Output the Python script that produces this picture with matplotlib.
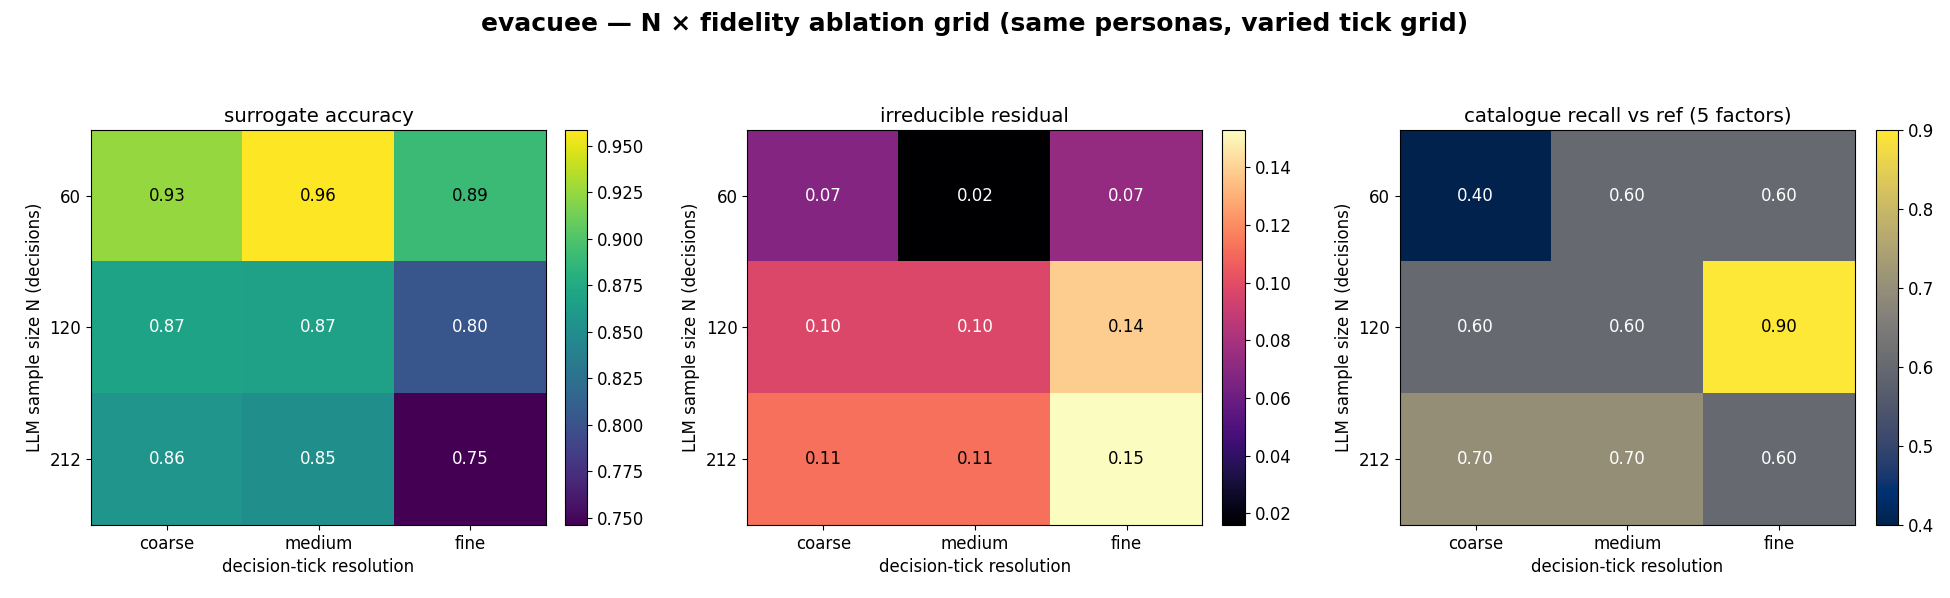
import matplotlib
matplotlib.use("Agg")
import matplotlib.pyplot as plt
import numpy as np

# grid axes
n_values = ["60", "120", "212"]
fidelity = ["coarse", "medium", "fine"]

# metric grids (rows = N, cols = fidelity)
surrogate_acc = [[0.925, 0.9585, 0.891],
                 [0.869, 0.868, 0.803],
                 [0.857, 0.852, 0.746]]
residual = [[0.068, 0.016, 0.0735],
            [0.097, 0.097, 0.139],
            [0.112, 0.112, 0.153]]
recall = [[0.4, 0.6, 0.6],
          [0.6, 0.6, 0.9],
          [0.7, 0.7, 0.6]]

panels = [
    ("surrogate accuracy", surrogate_acc, "viridis"),
    ("irreducible residual", residual, "magma"),
    ("catalogue recall vs ref (5 factors)", recall, "cividis"),
]

plt.rcParams["font.size"] = 12

fig = plt.figure(figsize=(19.5, 5.98), dpi=100)
ax_lefts = [0.0467, 0.3833, 0.7179]
cb_lefts = [0.2897, 0.6268, 0.9620]
bottom, height = 0.1221, 0.6605

for i, (title, grid, cmap) in enumerate(panels):
    data = np.array(grid)
    ax = fig.add_axes([ax_lefts[i], bottom, 0.2333, height])
    cax = fig.add_axes([cb_lefts[i], bottom, 0.0115, height])
    im = ax.imshow(data, cmap=cmap, aspect="auto")
    fig.colorbar(im, cax=cax)
    vmin, vmax = data.min(), data.max()
    for r in range(data.shape[0]):
        for c in range(data.shape[1]):
            v = data[r, c]
            frac = (v - vmin) / (vmax - vmin)
            color = "black" if frac > 0.65 else "white"
            ax.text(c, r, f"{v:.2f}", ha="center", va="center", color=color, fontsize=12)
    ax.set_xticks(range(len(fidelity)))
    ax.set_xticklabels(fidelity)
    ax.set_yticks(range(len(n_values)))
    ax.set_yticklabels(n_values)
    ax.set_xlabel("decision-tick resolution")
    ax.set_ylabel("LLM sample size N (decisions)")
    ax.set_title(title, fontsize=14.2)

fig.suptitle("evacuee \u2014 N \u00d7 fidelity ablation grid (same personas, varied tick grid)",
             fontsize=18, fontweight="bold")

fig.savefig("out.png", dpi=100)
